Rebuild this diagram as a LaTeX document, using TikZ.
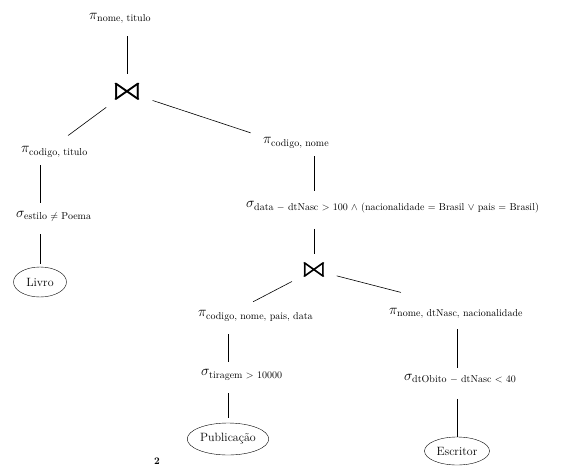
\documentclass[tikz,border=0pt]{standalone}
\usepackage{amsmath,amssymb,graphicx}
\usetikzlibrary{shapes.geometric}
\begin{document}
\begin{tikzpicture}[x=1pt,y=-1pt,
        op/.style={anchor=west,inner sep=1pt,font=\Large},
        rel/.style={ellipse,draw,inner sep=1pt,font=\large},
        joinop/.style={inner sep=0pt},
        edge/.style={semithick}]
            \useasboundingbox (0,0) rectangle (564,468);
            \node [op] (pNT) at (88,18) {$\pi_{\text{nome, titulo}}$};
            \node [joinop] (j1) at (127,92) {\scalebox{5}[3.5]{$\Join$}};
            \node [op] (pCT) at (20,152) {$\pi_{\text{codigo, titulo}}$};
            \node [op] (sE) at (15,216) {$\sigma_{\text{estilo $\neq$ Poema}}$};
            \node [rel,minimum width=53pt,minimum height=30pt] (livro) at (40,282) {Livro};
            \node [op] (pCN) at (262,143) {$\pi_{\text{codigo, nome}}$};
            \node [op] (sD) at (245,207) {$\sigma_{\text{data $-$ dtNasc $>$ 100 $\wedge$ (nacionalidade $=$ Brasil $\vee$ pais $=$ Brasil)}}$};
            \node [joinop] (j2) at (314,270) {\scalebox{4.2}[3]{$\Join$}};
            \node [op] (pCPD) at (197,316) {$\pi_{\text{codigo, nome, pais, data}}$};
            \node [op] (sT) at (200,375) {$\sigma_{\text{tiragem $>$ 10000}}$};
            \node [rel,minimum width=62pt,minimum height=32pt] (pub) at (228,439) {Publicação};
            \node [op] (pNDN) at (388,313) {$\pi_{\text{nome, dtNasc, nacionalidade}}$};
            \node [op] (sO) at (403,379) {$\sigma_{\text{dtObito $-$ dtNasc $<$ 40}}$};
            \node [rel,minimum width=65pt,minimum height=28pt] (esc) at (457,451) {Escritor};
            \node (pnum) at (157,461) {\textbf{2}};

            \draw [edge,shorten <=12pt,shorten >=6pt] (pNT.south -| j1) -- (j1);
            \draw [edge,shorten <=6pt,shorten >=17pt] (j1) -- (pCT.north);
            \draw [edge,shorten <=6pt,shorten >=12pt] (j1) -- (pCN.north west);
            \draw [edge,shorten <=7pt,shorten >=7pt] (pCT.south -| livro) -- (sE.north -| livro);
            \draw [edge,shorten <=12pt,shorten >=3pt] (sE.south -| livro) -- (livro);
            \draw [edge,shorten <=7pt,shorten >=9pt] (pCN.south -| j2) -- (sD.north -| j2);
            \draw [edge,shorten <=15pt,shorten >=6pt] (sD.south -| j2) -- (j2);
            \draw [edge,shorten <=6pt,shorten >=17pt] (j2) -- (pCPD.160);
            \draw [edge,shorten <=6pt,shorten >=57pt] (j2) -- (pNDN.north);
            \draw [edge,shorten <=12pt,shorten >=7pt] (pCPD.south -| pub) -- (sT.north -| pub);
            \draw [edge,shorten <=12pt,shorten >=5pt] (sT.south -| pub) -- (pub);
            \draw [edge,shorten <=10pt,shorten >=5pt] (pNDN.south -| esc) -- (sO.north -| esc);
            \draw [edge,shorten <=14pt] (sO.south -| esc) -- (esc);
\end{tikzpicture}
\end{document}
